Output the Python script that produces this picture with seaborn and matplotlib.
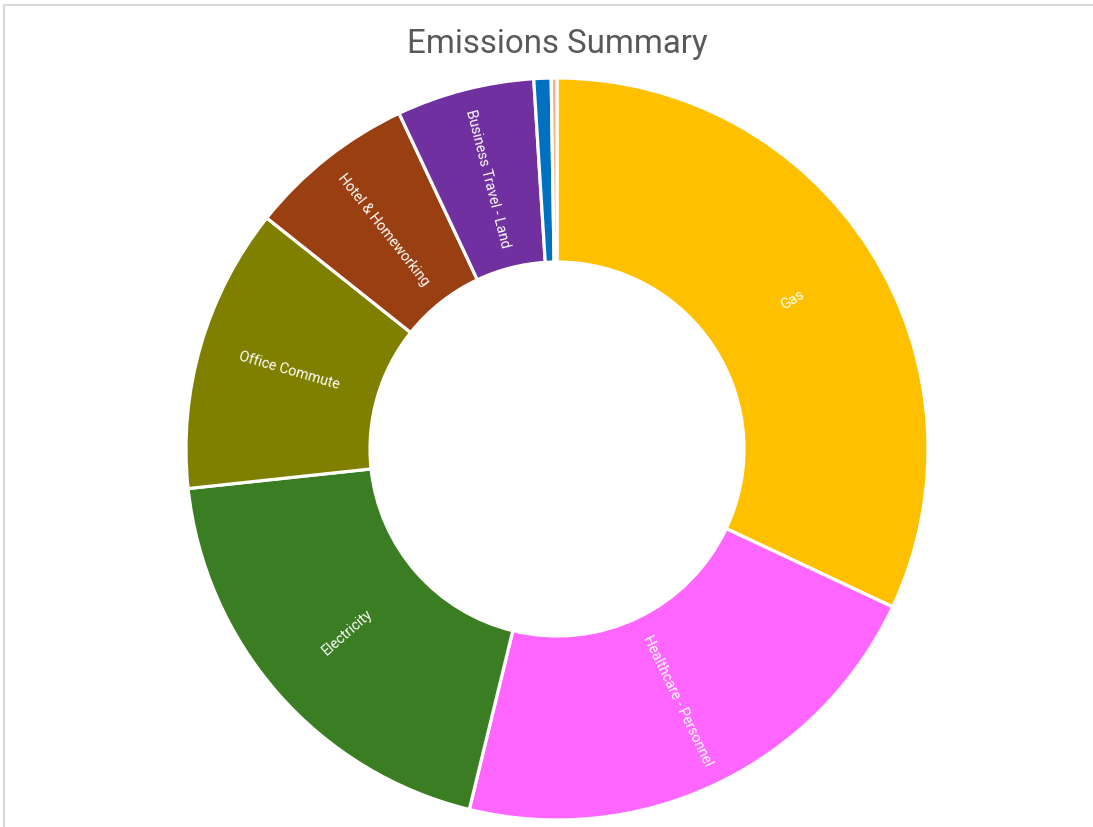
import numpy as np
import matplotlib
matplotlib.use("Agg")
import matplotlib.pyplot as plt
import seaborn as sns

categories = ["Gas", "Healthcare - Personnel", "Electricity", "Office Commute",
              "Hotel & Homeworking", "Business Travel - Land",
              "Business Travel - Air", "Waste"]
shares = [32.0, 21.8, 19.5, 12.4, 7.3, 6.0, 0.75, 0.25]
show_label = [True, True, True, True, True, True, False, False]
colors = ["#FFC000", "#FF66FF", "#3A7D22", "#808000", "#9A3F12", "#7030A0",
          "#0070C0", "#F4B183"]

sns.set_theme(style="white")
plt.rcParams["font.family"] = ["Roboto", "DejaVu Sans"]

W, H = 1093, 827
fig = plt.figure(figsize=(W / 100, H / 100), dpi=100)

# chart frame (cropped on right and bottom)
fig.patches.append(plt.Rectangle((4 / W, -0.1), 1.2, (H - 5) / H + 0.1,
                                 transform=fig.transFigure, fill=False,
                                 edgecolor="#D9D9D9", linewidth=1.5))

cx, cy, r = 557, H - 449, 371
half = 400
ax = fig.add_axes([(cx - half) / W, (cy - half) / H, 2 * half / W, 2 * half / H])

wedges, _ = ax.pie(shares, colors=sns.color_palette(colors), startangle=90,
                   counterclock=False, radius=1,
                   wedgeprops=dict(width=0.496, edgecolor="white", linewidth=2.3))
ax.set_xlim(-half / r, half / r)
ax.set_ylim(-half / r, half / r)
ax.axis("off")

for w, name, show in zip(wedges, categories, show_label):
    if not show:
        continue
    ang = (w.theta1 + w.theta2) / 2
    rr = 0.752
    x, y = rr * np.cos(np.radians(ang)), rr * np.sin(np.radians(ang))
    rot = ang
    while rot > 90:
        rot -= 180
    while rot < -90:
        rot += 180
    ax.text(x, y, name, rotation=rot, rotation_mode="anchor",
            ha="center", va="center", color="white", fontsize=10.3)

fig.text(557 / W, 1 - 44 / H, "Emissions Summary", ha="center", va="center",
         fontsize=23.8, color="#595959")

fig.savefig("out.png", dpi=100)
